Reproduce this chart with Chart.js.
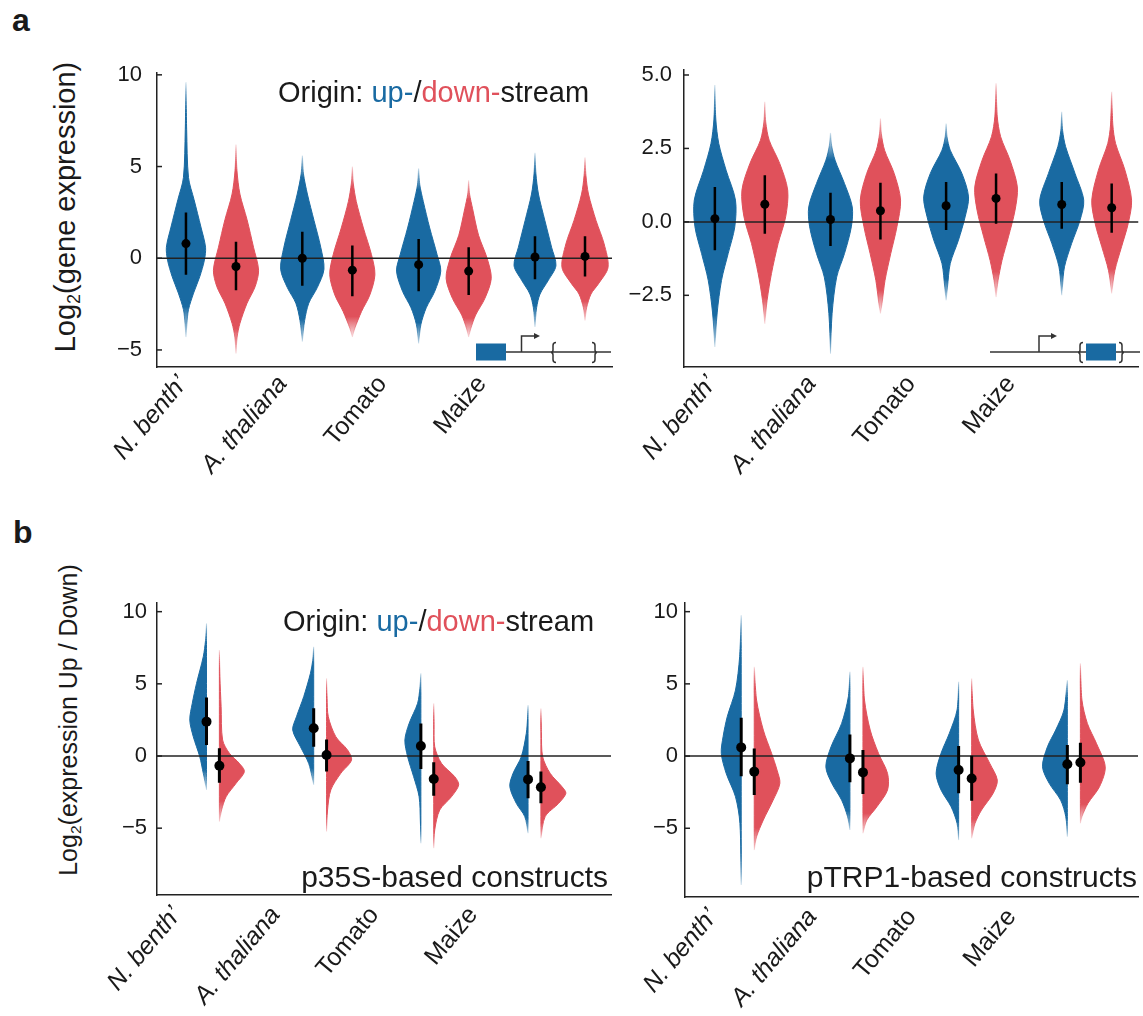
<!DOCTYPE html>
<html>
<head>
<meta charset="utf-8">
<script src="https://cdn.jsdelivr.net/npm/chart.js@4.4.1/dist/chart.umd.min.js"></script>
<style>
  body{margin:0;background:#fff;width:1143px;height:1016px;position:relative;overflow:hidden;
       font-family:"Liberation Sans",Arial,sans-serif;color:#1a1a1a}
  canvas{position:absolute}
  .t{position:absolute;white-space:nowrap;line-height:1}
  .ylab{position:absolute;white-space:nowrap;line-height:1;transform:translate(-50%,-50%) rotate(-90deg)}
  .ylab sub{font-size:0.62em;vertical-align:-0.25em}
  .up{color:#196aa2}.down{color:#e0515b}
</style>
</head>
<body>
<div class="t" style="left:12px;top:4px;font-size:32px;font-weight:bold">a</div>
<div class="t" style="left:13px;top:516px;font-size:32px;font-weight:bold">b</div>
<div class="ylab" style="left:67px;top:207px;font-size:29px">Log<sub>2</sub>(gene expression)</div>
<div class="ylab" style="left:70px;top:720px;font-size:25px">Log<sub>2</sub>(expression Up / Down)</div>

<canvas id="a1" width="560" height="470" style="left:80px;top:40px"></canvas>
<canvas id="a2" width="523" height="470" style="left:620px;top:40px"></canvas>
<canvas id="b1" width="560" height="446" style="left:80px;top:570px"></canvas>
<canvas id="b2" width="523" height="446" style="left:620px;top:570px"></canvas>

<div class="t" style="left:278px;top:78px;font-size:29px">Origin: <span class="up">up-</span>/<span class="down">down-</span>stream</div>
<div class="t" style="left:283px;top:607px;font-size:29px">Origin: <span class="up">up-</span>/<span class="down">down-</span>stream</div>
<div class="t" style="right:535px;top:862px;font-size:30px">p35S-based constructs</div>
<div class="t" style="right:6px;top:862px;font-size:30px">pTRP1-based constructs</div>

<!-- construct sketches -->
<svg width="1143" height="1016" style="position:absolute;left:0;top:0">
  <g stroke="#333" stroke-width="1.5" fill="none">
    <line x1="506" y1="352" x2="611" y2="352"/>
    <polyline points="521.5,352 521.5,336 535,336"/>
    <path d="M556,342.5 q-3,0 -3,3 v4.5 q0,2.5 -2,2.5 q2,0 2,2.5 v4.5 q0,3 3,3"/>
    <path d="M592,342.5 q3,0 3,3 v4.5 q0,2.5 2,2.5 q-2,0 -2,2.5 v4.5 q0,3 -3,3"/>
    <line x1="990" y1="352" x2="1140" y2="352"/>
    <polyline points="1039,352 1039,336 1052,336"/>
    <path d="M1083,342.5 q-3,0 -3,3 v4.5 q0,2.5 -2,2.5 q2,0 2,2.5 v4.5 q0,3 3,3"/>
    <path d="M1119,342.5 q3,0 3,3 v4.5 q0,2.5 2,2.5 q-2,0 -2,2.5 v4.5 q0,3 -3,3"/>
  </g>
  <polygon points="534,333 540,336 534,339" fill="#333"/>
  <polygon points="1051,333 1057,336 1051,339" fill="#333"/>
  <rect x="476" y="343.5" width="30" height="17" fill="#196aa2"/>
  <rect x="1086" y="343.5" width="30" height="17" fill="#196aa2"/>
</svg>

<script>
// --- Data ---
const CATEGORIES = ['N. benth\u2019', 'A. thaliana', 'Tomato', 'Maize'];
const ITALIC = [true, true, false, false];

// stats per category: [median, low, high]; shapes: [value, relative density]
// panel a, left (log2 expression)
const A1_Y_TICKS = [-5, 0, 5, 10];
const A1_UP_STATS = [[0.8, -0.9, 2.5], [0.0, -1.5, 1.45], [-0.35, -1.8, 1.05], [0.07, -1.15, 1.2]];
const A1_DOWN_STATS = [[-0.45, -1.75, 0.9], [-0.65, -2.07, 0.7], [-0.7, -2.0, 0.6], [0.1, -1.0, 1.2]];
const A1_UP_SHAPES = [
  [[-4.3,0],[-3.6,0.04],[-2.8,0.11],[-1.9,0.33],[-1.0,0.6],[-0.1,0.8],[0.6,0.85],[1.7,0.65],[3.2,0.35],[4.4,0.11],[7.0,0.03],[9.6,0]],
  [[-4.55,0],[-3.4,0.1],[-2.45,0.28],[-1.6,0.65],[-0.6,0.94],[0.6,0.8],[2.05,0.51],[3.5,0.22],[4.6,0.05],[5.6,0]],
  [[-4.65,0],[-3.6,0.1],[-2.7,0.33],[-1.8,0.7],[-0.7,0.96],[0.2,0.8],[1.65,0.48],[3.1,0.2],[4.0,0.05],[4.9,0]],
  [[-3.75,0],[-2.7,0.07],[-1.95,0.22],[-1.2,0.58],[-0.4,0.91],[0.6,0.72],[2.05,0.43],[3.5,0.15],[4.6,0.04],[5.75,0]]
];
const A1_DOWN_SHAPES = [
  [[-5.2,0],[-4.3,0.05],[-3.55,0.17],[-2.45,0.48],[-1.55,0.83],[-0.65,0.98],[0.6,0.76],[2.1,0.48],[3.5,0.17],[4.8,0.04],[6.2,0]],
  [[-4.3,0],[-3.85,0.1],[-2.9,0.4],[-2.0,0.76],[-0.9,0.98],[0.2,0.83],[1.65,0.48],[3.1,0.17],[4.1,0.04],[5.0,0]],
  [[-4.3,0],[-3.85,0.09],[-3.1,0.3],[-2.2,0.7],[-1.1,0.98],[0.0,0.8],[1.25,0.43],[2.7,0.17],[3.5,0.04],[4.25,0]],
  [[-3.4,0],[-2.7,0.07],[-1.95,0.26],[-1.4,0.58],[-0.5,1.0],[0.78,0.83],[2.05,0.48],[3.5,0.15],[4.5,0.04],[5.5,0]]
];

// panel a, right
const A2_Y_TICKS = [-2.5, 0, 2.5, 5];
const A2_UP_STATS = [[0.11, -0.97, 1.19], [0.08, -0.82, 0.99], [0.55, -0.28, 1.36], [0.59, -0.23, 1.36]];
const A2_DOWN_STATS = [[0.6, -0.4, 1.59], [0.38, -0.6, 1.33], [0.8, -0.06, 1.65], [0.48, -0.37, 1.31]];
const A2_UP_SHAPES = [
  [[-4.26,0],[-3.1,0.1],[-1.99,0.29],[-1.08,0.58],[-0.17,0.87],[0.74,0.9],[1.76,0.49],[2.67,0.17],[3.5,0.04],[4.66,0]],
  [[-4.49,0],[-3.12,0.07],[-1.88,0.27],[-1.08,0.61],[-0.17,0.91],[0.51,0.95],[1.31,0.61],[2.1,0.2],[2.6,0.05],[3.03,0]],
  [[-2.67,0],[-2.22,0.06],[-1.42,0.18],[-0.62,0.54],[0.17,0.83],[0.85,0.98],[1.65,0.69],[2.44,0.18],[2.9,0.04],[3.35,0]],
  [[-2.5,0],[-2.22,0.03],[-1.53,0.12],[-0.74,0.43],[0.06,0.8],[0.74,0.96],[1.65,0.58],[2.56,0.17],[3.1,0.04],[3.75,0]]
];
const A2_DOWN_SHAPES = [
  [[-3.47,0],[-2.67,0.1],[-1.76,0.29],[-0.74,0.58],[0.17,0.91],[1.08,1.0],[1.99,0.65],[2.78,0.19],[3.4,0.04],[4.09,0]],
  [[-3.12,0],[-2.78,0.07],[-1.99,0.2],[-1.08,0.45],[-0.17,0.72],[0.74,0.88],[1.65,0.6],[2.44,0.18],[3.0,0.04],[3.52,0]],
  [[-2.56,0],[-1.99,0.09],[-1.31,0.26],[-0.51,0.54],[0.4,0.83],[1.19,0.93],[2.1,0.61],[2.9,0.2],[3.6,0.05],[4.72,0]],
  [[-2.44,0],[-1.65,0.14],[-0.85,0.43],[-0.06,0.72],[0.74,0.87],[1.76,0.58],[2.67,0.17],[3.3,0.05],[4.43,0]]
];

// panel b, left (log2 up/down, p35S)
const B1_Y_TICKS = [-5, 0, 5, 10];
const B1_UP_STATS = [[2.38, 0.76, 4.06], [1.92, 0.64, 3.3], [0.69, -0.9, 2.26], [-1.62, -2.93, -0.35]];
const B1_DOWN_STATS = [[-0.67, -1.85, 0.53], [0.07, -1.08, 1.15], [-1.59, -2.75, -0.44], [-2.17, -3.28, -1.08]];
const B1_UP_SHAPES = [
  [[-2.35,0],[-1.2,0.13],[-0.05,0.27],[1.34,0.53],[2.49,0.67],[3.65,0.57],[5.03,0.4],[6.88,0.13],[8.0,0.04],[9.19,0]],
  [[-2.0,0],[-1.43,0.07],[-0.51,0.2],[0.64,0.53],[1.8,0.84],[2.72,0.69],[4.11,0.4],[5.73,0.13],[6.6,0.04],[7.57,0]],
  [[-6.05,0],[-4.5,0.02],[-2.82,0.07],[-1.43,0.29],[-0.05,0.53],[1.11,0.64],[2.26,0.47],[3.65,0.13],[4.7,0.04],[5.73,0]],
  [[-5.35,0],[-4.2,0.13],[-3.28,0.47],[-2.12,0.73],[-1.2,0.6],[-0.05,0.27],[1.57,0.07],[2.6,0.02],[3.53,0]]
];
const B1_DOWN_SHAPES = [
  [[-4.55,0],[-3.74,0.09],[-2.82,0.27],[-1.89,0.67],[-1.08,1.0],[-0.51,0.8],[0.19,0.4],[1.11,0.13],[3.42,0.07],[5.5,0.02],[7.34,0]],
  [[-5.24,0],[-3.74,0.04],[-2.35,0.17],[-1.2,0.57],[-0.28,1.0],[0.42,0.84],[1.34,0.37],[2.72,0.07],[4.0,0.02],[5.38,0]],
  [[-6.39,0],[-5.12,0.04],[-3.74,0.24],[-2.82,0.71],[-2.0,1.0],[-1.43,0.84],[-0.51,0.31],[0.64,0.04],[2.2,0.01],[3.65,0]],
  [[-5.7,0],[-4.2,0.17],[-3.28,0.71],[-2.58,1.0],[-2.12,0.84],[-1.2,0.37],[-0.05,0.07],[1.6,0.02],[3.3,0]]
];

// panel b, right (pTRP1)
const B2_Y_TICKS = [-5, 0, 5, 10];
const B2_UP_STATS = [[0.6, -1.39, 2.65], [-0.16, -1.82, 1.5], [-0.97, -2.58, 0.69], [-0.57, -1.96, 0.76]];
const B2_DOWN_STATS = [[-1.08, -2.7, 0.53], [-1.13, -2.63, 0.42], [-1.55, -3.1, 0.02], [-0.44, -1.85, 0.92]];
const B2_UP_SHAPES = [
  [[-8.93,0],[-4.66,0.05],[-2.82,0.22],[-1.2,0.58],[0.19,0.77],[1.34,0.7],[2.72,0.54],[4.57,0.22],[6.88,0.06],[9.76,0]],
  [[-5.12,0],[-4.2,0.09],[-3.05,0.32],[-1.89,0.7],[-0.74,0.93],[0.64,0.73],[2.26,0.32],[4.11,0.06],[5.84,0]],
  [[-5.82,0],[-4.66,0.06],[-3.51,0.29],[-2.35,0.68],[-1.2,0.87],[0.19,0.68],[1.57,0.36],[3.19,0.06],[5.15,0]],
  [[-5.59,0],[-4.2,0.06],[-3.05,0.26],[-1.89,0.7],[-0.74,0.96],[0.64,0.77],[1.8,0.45],[3.19,0.13],[5.26,0]]
];
const B2_DOWN_SHAPES = [
  [[-6.51,0],[-5.59,0.09],[-4.43,0.35],[-3.05,0.73],[-1.89,0.99],[-0.97,0.88],[0.19,0.67],[1.8,0.35],[3.88,0.09],[6.18,0]],
  [[-5.35,0],[-4.43,0.15],[-3.51,0.54],[-2.35,0.95],[-1.2,0.95],[0.19,0.6],[1.8,0.28],[3.88,0.06],[6.18,0]],
  [[-5.7,0],[-4.66,0.13],[-3.74,0.38],[-2.58,0.83],[-1.66,0.99],[-0.51,0.7],[1.11,0.26],[3.19,0.06],[5.38,0]],
  [[-4.66,0],[-4.2,0.06],[-3.28,0.29],[-2.12,0.74],[-0.74,0.96],[0.88,0.62],[2.26,0.27],[3.88,0.06],[6.42,0]]
];

// --- Style ---
const BLUE = [25, 106, 162], RED = [224, 81, 91], INK = '#1a1a1a', AXIS = '#222';
const FONT = '"Liberation Sans", Arial, sans-serif';

// --- Helpers ---
const minus = s => String(s).replace('-', '\u2212');
const rgba = (c, a) => `rgba(${c[0]},${c[1]},${c[2]},${a})`;

// polygon around one violin; side 0 = full, -1 = left half, +1 = right half
function violinPoints(c, shape, half, side){
  const pts = [];
  if(side === 0){
    for(const [v,w] of shape) pts.push({x: c - w*half, y: v});
    for(let i=shape.length-2;i>=0;i--) pts.push({x: c + shape[i][1]*half, y: shape[i][0]});
  } else {
    for(const [v,w] of shape) pts.push({x: c + side*w*half, y: v});
    for(let i=shape.length-2;i>=0;i--) pts.push({x: c, y: shape[i][0]});
  }
  return pts;
}

// tails fade out towards the extreme values, as in the figure
function tailFade(color, shape){
  const lo = shape[0][0], hi = shape[shape.length-1][0];
  return ctx => {
    const chart = ctx.chart, y = chart.scales.y;
    if(!chart.chartArea || !y) return rgba(color, 1);
    const g = chart.ctx.createLinearGradient(0, y.getPixelForValue(hi), 0, y.getPixelForValue(lo));
    g.addColorStop(0, rgba(color, 0.1));
    g.addColorStop(0.12, rgba(color, 1));
    g.addColorStop(0.88, rgba(color, 1));
    g.addColorStop(1, rgba(color, 0.1));
    return g;
  };
}

const inwardTicks = {
  id: 'inwardTicks',
  afterDraw(chart){
    const {ctx, chartArea, scales:{y}} = chart;
    ctx.save(); ctx.strokeStyle = AXIS; ctx.lineWidth = 1.5;
    for(const t of y.ticks){
      const py = y.getPixelForValue(t.value);
      ctx.beginPath(); ctx.moveTo(chartArea.left, py); ctx.lineTo(chartArea.left + 5, py); ctx.stroke();
    }
    ctx.restore();
  }
};

function buildPanel(cfg){
  const datasets = [];
  const groups = [
    {stats: cfg.upStats, shapes: cfg.upShapes, color: BLUE, dir: -1},
    {stats: cfg.downStats, shapes: cfg.downShapes, color: RED, dir: 1}
  ];
  const dots = [], bars = [];
  for(const g of groups){
    g.shapes.forEach((shape, i) => {
      const c = i + g.dir*cfg.offset;
      const paint = tailFade(g.color, shape);
      datasets.push({
        data: violinPoints(c, shape, cfg.half, cfg.split ? g.dir : 0),
        xAxisID: 'xv', backgroundColor: paint, borderColor: paint, borderWidth: 1,
        fill: 'shape', tension: 0.3, pointRadius: 0, order: 3
      });
    });
    g.stats.forEach(([m, lo, hi], i) => {
      const c = i + g.dir*cfg.offset;
      dots.push({x: c, y: m});
      bars.push({x: c, y: lo}, {x: c, y: hi}, {x: c, y: null});
    });
  }
  datasets.push({data: [{x: cfg.xvMin, y: 0}, {x: cfg.xvMax, y: 0}], xAxisID: 'xv',
    borderColor: AXIS, borderWidth: 1.5, pointRadius: 0, fill: false, order: 2});
  datasets.push({data: bars, xAxisID: 'xv', borderColor: '#000', borderWidth: cfg.barW,
    pointRadius: 0, fill: false, spanGaps: false, order: 1});
  datasets.push({data: dots, xAxisID: 'xv', showLine: false, pointRadius: cfg.dotR,
    pointBackgroundColor: '#000', pointBorderWidth: 0, order: 0});

  new Chart(document.getElementById(cfg.id), {
    type: 'line',
    data: {datasets},
    plugins: [inwardTicks],
    options: {
      responsive: false, animation: false, events: [],
      layout: {padding: {top: cfg.padTop, right: cfg.padRight, left: 0, bottom: 0}},
      plugins: {legend: {display: false}, tooltip: {enabled: false}},
      scales: {
        xv: {type: 'linear', display: false, min: cfg.xvMin, max: cfg.xvMax},
        x: {
          type: 'linear', position: 'bottom', min: cfg.xlMin, max: cfg.xlMax,
          afterBuildTicks: s => { s.ticks = CATEGORIES.map((_, i) => ({value: i})); },
          afterFit: s => { s.height = cfg.xHeight; },
          grid: {display: false, drawTicks: false},
          border: {display: true, color: AXIS, width: 1.5},
          ticks: {
            autoSkip: false, minRotation: 50, maxRotation: 50, padding: cfg.labPad, color: INK,
            font: ctx => ({family: FONT, size: 25, style: ITALIC[ctx.index] ? 'italic' : 'normal'}),
            callback: v => CATEGORIES[v]
          }
        },
        y: {
          min: cfg.yMin, max: cfg.yMax,
          afterBuildTicks: s => { s.ticks = cfg.yTicks.map(v => ({value: v})); },
          afterFit: s => { s.width = cfg.yWidth; },
          grid: {display: false, drawTicks: false},
          border: {display: true, color: AXIS, width: 1.5},
          ticks: {padding: cfg.tickPad, color: INK, font: {family: FONT, size: 22},
            callback: v => minus(v.toFixed(cfg.dec))}
        }
      }
    }
  });
}

// --- Panels ---
buildPanel({id: 'a1', upStats: A1_UP_STATS, downStats: A1_DOWN_STATS, upShapes: A1_UP_SHAPES, downShapes: A1_DOWN_SHAPES,
  yTicks: A1_Y_TICKS, yMin: -5.93, yMax: 10.1, dec: 0, xvMin: -0.464, xvMax: 3.447, xlMin: -0.261, xlMax: 4.304,
  yWidth: 77, padTop: 33, padRight: 28, xHeight: 143, labPad: 3, split: false, offset: 0.215, half: 0.198, dotR: 4.5, barW: 2.5, tickPad: 15});
buildPanel({id: 'a2', upStats: A2_UP_STATS, downStats: A2_DOWN_STATS, upShapes: A2_UP_SHAPES, downShapes: A2_DOWN_SHAPES,
  yTicks: A2_Y_TICKS, yMin: -4.94, yMax: 5.17, dec: 1, xvMin: -0.483, xvMax: 3.448, xlMin: -0.28, xlMax: 4.28,
  yWidth: 64, padTop: 30, padRight: 3, xHeight: 143, labPad: 3, split: false, offset: 0.216, half: 0.198, dotR: 4.5, barW: 2.5, tickPad: 12});
buildPanel({id: 'b1', upStats: B1_UP_STATS, downStats: B1_DOWN_STATS, upShapes: B1_UP_SHAPES, downShapes: B1_DOWN_SHAPES,
  yTicks: B1_Y_TICKS, yMin: -9.63, yMax: 10.6, dec: 0, xvMin: -0.522, xvMax: 3.714, xlMin: -0.203, xlMax: 4.397,
  yWidth: 77, padTop: 33, padRight: 29, xHeight: 121, labPad: 6, split: true, offset: 0.06, half: 0.233, dotR: 5, barW: 3, tickPad: 10});
buildPanel({id: 'b2', upStats: B2_UP_STATS, downStats: B2_DOWN_STATS, upShapes: B2_UP_SHAPES, downShapes: B2_DOWN_SHAPES,
  yTicks: B2_Y_TICKS, yMin: -9.76, yMax: 10.6, dec: 0, xvMin: -0.577, xvMax: 3.59, xlMin: -0.28, xlMax: 4.27,
  yWidth: 65, padTop: 33, padRight: 3, xHeight: 119, labPad: 6, split: true, offset: 0.06, half: 0.238, dotR: 5, barW: 3, tickPad: 7});
</script>
</body>
</html>
